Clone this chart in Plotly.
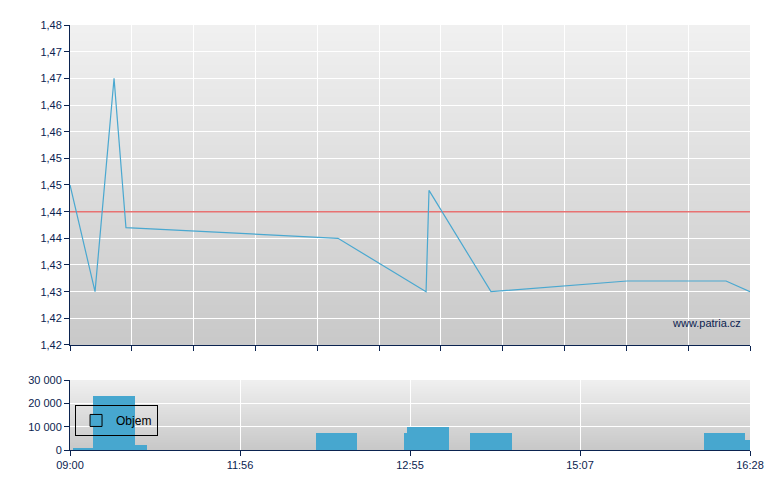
import plotly.graph_objects as go

# ---- data ----
# x positions are in the chart's (compressed) session-time units: 0 = 09:00, 44 = 16:28
price_x = [0, 1.62, 2.85, 3.62, 17.34, 23.04, 23.23, 27.24, 36.04, 42.45, 44]
price_y = [1.450, 1.430, 1.470, 1.442, 1.440, 1.430, 1.449, 1.430, 1.432, 1.432, 1.430]
ref_price = 1.445

vol_start = [0.2, 1.5, 4.2, 15.9, 21.6, 21.8, 25.9, 41.0, 43.7]
vol_width = [1.3, 2.7, 0.8, 2.7, 0.2, 2.7, 2.7, 2.7, 0.3]
vol_value = [500, 23200, 2200, 7400, 7400, 9900, 7400, 7400, 4300]

price_ticks = [1.42, 1.425, 1.43, 1.435, 1.44, 1.445, 1.45, 1.455, 1.46, 1.465, 1.47, 1.475, 1.48]
price_tick_text = ["1,42", "1,42", "1,43", "1,43", "1,44", "1,44", "1,45", "1,45",
                   "1,46", "1,46", "1,47", "1,47", "1,48"]
vol_ticks = [0, 10000, 20000, 30000]
vol_tick_text = ["0", "10 000", "20 000", "30 000"]
time_ticks = [0, 11, 22, 33, 44]
time_tick_text = ["09:00", "11:56", "12:55", "15:07", "16:28"]

NAVY = "#0b2350"
LINE = "#4aa8d0"
BAR = "#47a7cf"

fig = go.Figure()
fig.add_trace(go.Scatter(x=[0, 44], y=[ref_price, ref_price], mode="lines",
                         line=dict(color="#e87272", width=1.5), showlegend=False,
                         xaxis="x", yaxis="y"))
fig.add_trace(go.Scatter(x=price_x, y=price_y, mode="lines",
                         line=dict(color=LINE, width=1.2), showlegend=False,
                         xaxis="x", yaxis="y"))
fig.add_trace(go.Bar(x=vol_start, y=vol_value, width=vol_width, offset=0,
                     marker=dict(color=BAR, line=dict(width=0)), showlegend=False,
                     xaxis="x2", yaxis="y2"))
fig.add_trace(go.Bar(x=[None], y=[None], name="Objem",
                     marker=dict(color=BAR, line=dict(color="black", width=1)),
                     showlegend=True, xaxis="x2", yaxis="y2"))

# gradient backgrounds (stacked rects from the bottom, so no seams)
def gradient(xref, yref, top, bottom, n=40):
    shapes = []
    for i in range(n):
        t = i / (n - 1)
        c = int(round(top + (bottom - top) * t))
        shapes.append(dict(type="rect", xref=xref + " domain", yref=yref + " domain",
                           x0=0, x1=1, y0=0, y1=1 - i / n,
                           fillcolor=f"rgb({c},{c},{c})", line=dict(width=0),
                           layer="below"))
    return shapes

shapes = gradient("x", "y", 240, 201) + gradient("x2", "y2", 239, 200)

axis_common = dict(showline=True, linecolor=NAVY, linewidth=1, ticks="outside",
                   ticklen=5, tickcolor=NAVY, gridcolor="white", gridwidth=1,
                   zeroline=False, tickfont=dict(color=NAVY, size=11))

# page body has an 8px margin, so the figure is 8px smaller and margins offset
fig.update_layout(
    width=772, height=482,
    margin=dict(l=62, r=30, t=17, b=40),
    paper_bgcolor="white", plot_bgcolor="rgba(0,0,0,0)",
    font=dict(family="Liberation Sans, Arial, sans-serif", color=NAVY, size=11),
    shapes=shapes,
    bargap=0,
    xaxis=dict(domain=[0, 1], range=[0, 44], tickvals=list(range(0, 45, 4)),
               showticklabels=False, anchor="y", **axis_common),
    yaxis=dict(domain=[0.2471, 1.0], range=[1.42, 1.48], tickvals=price_ticks,
               ticktext=price_tick_text, anchor="x", **axis_common),
    xaxis2=dict(domain=[0, 1], range=[0, 44], tickvals=time_ticks,
                ticktext=time_tick_text, anchor="y2", **axis_common),
    yaxis2=dict(domain=[0, 0.1647], range=[0, 30000], tickvals=vol_ticks,
                ticktext=vol_tick_text, anchor="x2", **axis_common),
    legend=dict(x=0.0074, y=0.106, xanchor="left", yanchor="top",
                bgcolor="rgba(0,0,0,0)", bordercolor="black", borderwidth=1,
                font=dict(size=12, color="black"), itemwidth=30,
                tracegroupgap=0),
    annotations=[dict(text="www.patria.cz", xref="x domain", yref="y domain",
                      x=0.99, y=0.069, xanchor="right", yanchor="middle",
                      showarrow=False, font=dict(size=11, color=NAVY))],
)

fig.write_html("out.html")
